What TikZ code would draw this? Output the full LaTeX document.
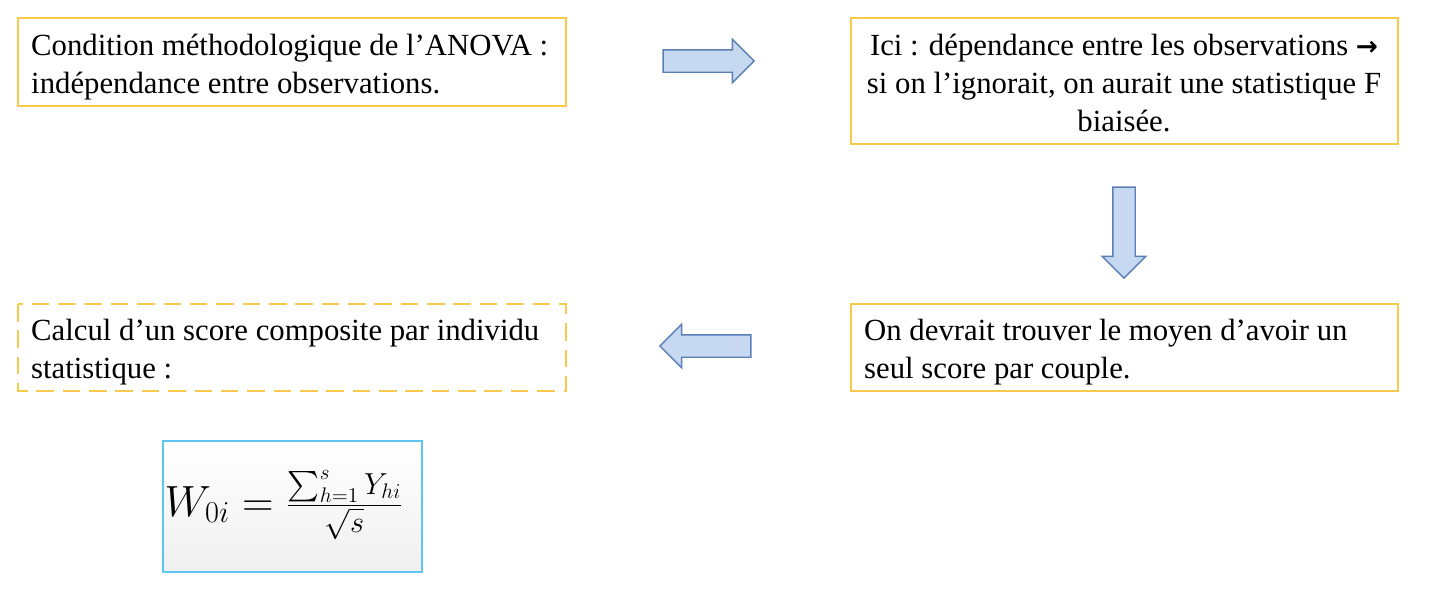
\documentclass[tikz,border=0pt]{standalone}
\usepackage{fontspec}
\usepackage{amsmath}
\setmainfont{Liberation Serif}
\usetikzlibrary{shapes.arrows}
\definecolor{boxyellow}{HTML}{F9C94E}
\definecolor{arrfill}{HTML}{C6D9F0}
\definecolor{arrline}{HTML}{5A7FB5}
\definecolor{formline}{HTML}{5BC6F0}

\begin{document}
\begin{tikzpicture}[x=0.02cm,y=-0.02cm,
  box/.style={draw=boxyellow,line width=1.3pt,inner sep=0pt},
  bluearrow/.style={single arrow,draw=arrline,fill=arrfill,line width=0.8pt,
    text height=0.42cm,text depth=0pt,text width=0pt,inner sep=0pt,
    minimum height=1.82cm,single arrow head extend=0.21cm},
  txt/.style={font=\fontsize{17.5}{21.5}\selectfont,align=left,anchor=north west}]
\useasboundingbox (0,0) rectangle (1440,593);
% boxes
\draw[box] (18,18) rectangle (566,106);
\draw[box] (851,18) rectangle (1398,144);
\draw[box] (851,304) rectangle (1398,391);
\draw[box,dashed,dash pattern=on 10pt off 5pt] (18,304) rectangle (566,391);
% texts
\node[txt] (t1) at (25,28) {Condition méthodologique de l’ANOVA :\\indépendance entre observations.};
\node[txt,align=center,anchor=north] (t2) at (1124,28) {Ici : dépendance entre les observations {\fontspec{DejaVu Sans}\bfseries\fontsize{15}{21.5}\selectfont →}\\si on l’ignorait, on aurait une statistique F\\biaisée.};
\node[txt] (t3) at (858,313) {On devrait trouver le moyen d’avoir un\\seul score par couple.};
\node[txt] (t4) at (25,313) {Calcul d’un score composite par individu\\statistique :};
% arrows
\node[bluearrow] (a1) at (703,61) {};
\node[bluearrow,rotate=-90] (a2) at (1124,227) {};
\node[bluearrow,rotate=180] (a3) at (711,346) {};
% formula
\shade[top color=white,bottom color=gray!12] (163,441) rectangle (422,572);
\draw[formline,line width=1.3pt] (163,441) rectangle (422,572);
\node[font=\fontsize{25}{28}\selectfont] (f) at (284,505)
  {$W_{0i}=\frac{\sum_{h=1}^{s}Y_{hi}}{\sqrt{s}}$};
\end{tikzpicture}
\end{document}
